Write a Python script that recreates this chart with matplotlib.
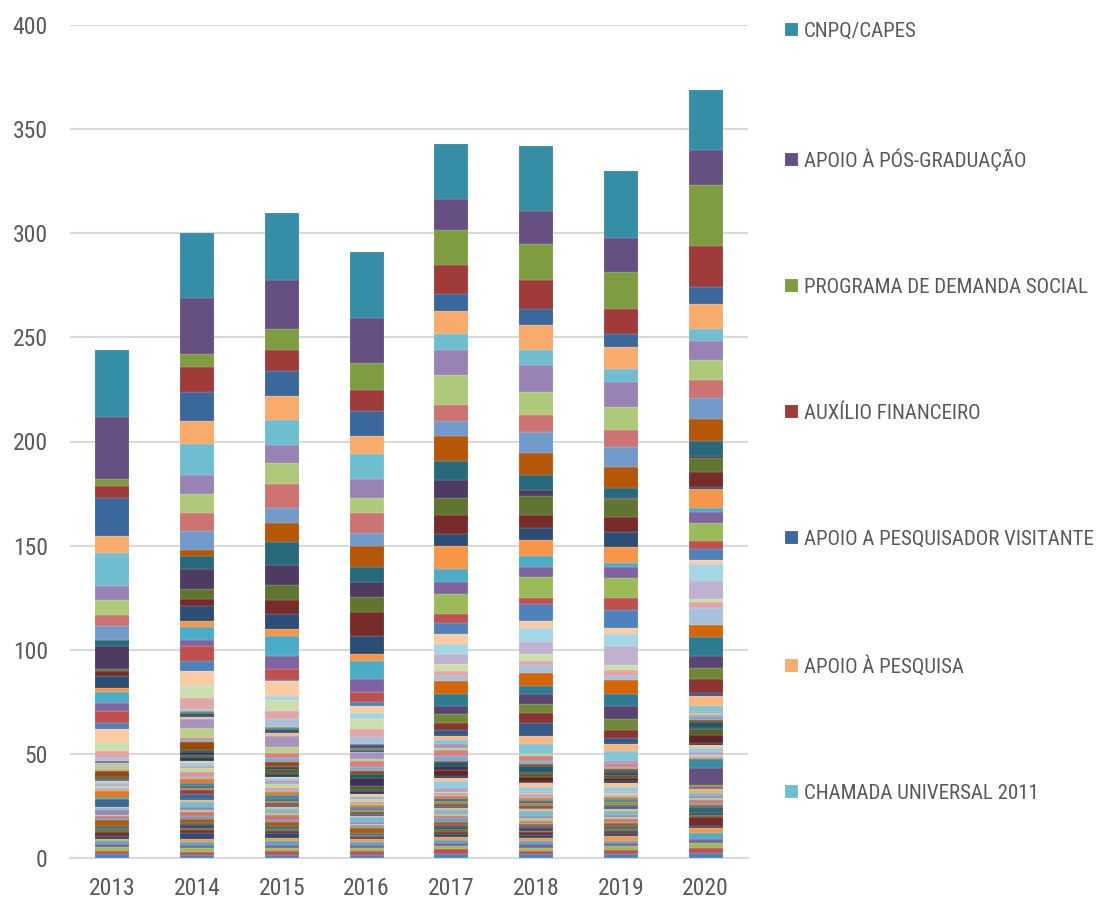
import colorsys
import numpy as np
import matplotlib
matplotlib.use('Agg')
import matplotlib.pyplot as plt
from matplotlib import font_manager
from matplotlib.colors import to_rgb

# Dados (valores por ano, séries de cima para baixo na pilha)
anos = ['2013', '2014', '2015', '2016', '2017', '2018', '2019', '2020']

nomes = ['CNPQ/CAPES', 'APOIO À PÓS-GRADUAÇÃO', 'PROGRAMA DE DEMANDA SOCIAL',
         'AUXÍLIO FINANCEIRO', 'APOIO A PESQUISADOR VISITANTE', 'APOIO À PESQUISA',
         'CHAMADA UNIVERSAL 2011']

# grupo A: 5 séries do topo (sem laranja)
grupo_a = [
    [32.0, 31.3, 32.0, 31.8, 26.4, 31.2, 32.5, 29.1],   # CNPQ/CAPES
    [30.0, 26.9, 23.9, 21.3, 14.9, 15.9, 16.0, 16.6],   # APOIO À PÓS-GRADUAÇÃO
    [3.1, 5.9, 9.9, 13.0, 17.0, 17.4, 18.1, 29.3],      # PROGRAMA DE DEMANDA SOCIAL
    [5.8, 11.9, 10.2, 10.1, 13.7, 13.7, 11.8, 19.9],    # AUXÍLIO FINANCEIRO
    [18.3, 14.2, 12.0, 12.0, 8.2, 8.0, 6.1, 8.2],       # APOIO A PESQUISADOR VISITANTE
]
grupo_b = [
    [8.1, 11.0, 11.2, 9.0, 11.0, 11.9, 10.9, 12.0],     # APOIO À PESQUISA
    [15.8, 14.8, 12.0, 12.0, 8.0, 7.2, 6.1, 5.8],       # CHAMADA UNIVERSAL 2011
    [6.7, 9.3, 9.0, 8.7, 12.0, 12.8, 11.8, 8.8],
    [7.4, 9.0, 9.7, 7.2, 14.1, 11.2, 11.4, 9.6],
    [5.1, 8.9, 11.9, 9.9, 8.0, 8.0, 7.8, 8.6],
    [7.0, 8.8, 7.0, 6.0, 6.9, 10.2, 9.9, 10.2],
]
grupo_c = [
    [0.0, 3.0, 9.0, 10.1, 12.2, 10.6, 10.0, 10.6],
    [2.8, 6.1, 11.0, 7.2, 8.9, 7.0, 4.8, 7.1],
    [10.9, 9.8, 9.9, 7.5, 8.8, 3.1, 0.6, 1.1],
    [1.0, 4.9, 6.9, 7.3, 8.2, 8.9, 8.5, 6.9],
    [2.2, 3.2, 7.1, 11.1, 9.0, 6.3, 7.2, 7.0],
    [5.8, 7.1, 7.2, 8.8, 6.0, 5.7, 7.0, 1.0],
]
grupo_d = [
    [2.1, 3.2, 3.2, 3.2, 11.1, 8.0, 7.9, 9.0],
    [5.1, 5.8, 9.6, 9.0, 5.9, 5.0, 2.1, 2.2],
    [4.0, 3.0, 6.2, 5.9, 6.0, 5.1, 4.9, 5.0],
    [0.0, 0.0, 0.0, 0.0, 9.7, 9.8, 9.8, 8.9],
    [5.8, 7.1, 5.1, 5.1, 4.0, 3.2, 5.5, 3.7],
    [3.0, 4.9, 0.8, 2.0, 5.5, 8.0, 8.7, 5.3],
]
grupo_e = [
    [6.2, 7.3, 7.1, 3.0, 4.9, 3.2, 3.2, 1.9],
    [0.0, 0.6, 2.1, 2.9, 4.8, 7.0, 5.8, 8.0],
    [0.0, 0.0, 0.0, 0.0, 4.8, 5.8, 8.8, 8.7],
    [4.0, 5.0, 5.1, 5.1, 3.2, 3.2, 2.4, 1.6],
    [3.8, 5.3, 3.8, 3.8, 2.2, 1.9, 3.0, 2.9],
    [1.1, 1.0, 3.8, 3.2, 2.6, 4.0, 1.8, 8.2],
]
grupo_f = [
    [0.0, 0.0, 0.0, 0.0, 6.3, 6.1, 7.0, 5.8],
    [0.4, 0.0, 0.0, 0.5, 5.7, 3.9, 5.8, 8.8],
    [0.5, 0.0, 0.0, 1.6, 4.0, 4.9, 6.2, 6.2],
    [0.0, 1.0, 1.0, 0.8, 4.1, 4.1, 5.0, 5.0],
    [0.0, 0.0, 0.0, 0.0, 3.3, 4.8, 4.0, 7.0],
    [0.4, 2.0, 2.2, 0.8, 2.9, 6.1, 3.0, 1.0],
]
grupo_g = [
    [0.3, 1.0, 1.1, 0.4, 1.9, 4.1, 3.2, 4.8],
    [0.0, 0.0, 0.0, 0.0, 1.9, 4.9, 5.0, 3.0],
    [0.4, 4.2, 5.3, 3.2, 1.9, 0.0, 0.8, 0.5],
    [2.0, 5.0, 3.2, 1.0, 1.3, 1.0, 0.0, 0.8],
    [0.5, 1.0, 2.1, 2.7, 2.7, 2.2, 2.1, 0.8],
    [0.6, 1.0, 2.2, 2.1, 2.4, 1.3, 0.8, 1.9],
]
grupo_h = [
    [2.7, 3.8, 1.8, 1.3, 0.6, 1.3, 1.1, 1.0],
    [0.5, 1.0, 0.6, 1.9, 1.9, 2.7, 0.8, 2.6],
    [0.4, 1.2, 0.6, 3.8, 1.9, 0.6, 1.0, 0.6],
    [0.4, 1.0, 2.1, 2.1, 0.0, 1.6, 1.2, 2.9],
    [0.0, 0.0, 0.5, 0.5, 2.6, 2.4, 1.5, 3.8],
    [0.5, 1.9, 1.5, 1.6, 1.0, 0.5, 1.1, 1.0],
]
grupo_i = [
    [0.8, 0.9, 0.6, 0.8, 1.8, 1.9, 1.9, 1.3],
    [0.6, 1.4, 0.7, 0.6, 3.2, 2.4, 2.4, 2.1],
    [1.2, 1.0, 1.9, 1.0, 1.9, 0.8, 0.6, 1.4],
    [0.9, 1.9, 1.9, 1.2, 0.6, 0.6, 0.8, 0.5],
    [0.7, 2.4, 1.0, 1.0, 1.0, 0.7, 0.5, 0.6],
    [0.5, 1.1, 0.8, 0.6, 0.5, 0.9, 0.7, 0.5],
]
grupo_j = [
    [2.4, 1.9, 1.6, 1.0, 0.8, 0.9, 0.8, 0.6],
    [0.3, 1.2, 2.1, 0.8, 0.7, 0.8, 0.7, 4.0],
    [0.4, 1.0, 0.9, 0.6, 0.9, 1.0, 0.9, 8.2],
    [0.8, 1.3, 1.0, 0.9, 1.2, 1.1, 1.1, 1.1],
    [0.4, 1.6, 0.8, 1.1, 0.9, 0.9, 0.6, 0.5],
    [3.5, 2.9, 1.2, 0.7, 1.1, 0.8, 1.6, 0.5],
]
grupo_k = [
    [0.7, 1.2, 0.9, 0.6, 1.0, 1.0, 0.7, 2.0],
    [0.9, 2.4, 1.1, 2.4, 1.2, 2.2, 2.2, 1.2],
    [2.4, 1.3, 0.8, 0.7, 0.8, 1.1, 0.8, 1.0],
    [0.5, 1.0, 1.0, 0.8, 0.9, 1.2, 1.2, 1.1],
    [1.1, 2.1, 2.1, 0.5, 1.1, 0.9, 1.0, 1.3],
    [0.8, 1.1, 0.9, 0.6, 1.9, 0.8, 0.8, 1.0],
]
grupo_l = [
    [2.7, 1.9, 2.1, 2.4, 1.1, 0.9, 1.3, 0.8],
    [0.9, 1.3, 0.9, 0.6, 1.0, 1.0, 0.8, 2.9],
    [0.8, 1.2, 0.8, 0.5, 1.2, 1.1, 0.7, 0.9],
    [1.2, 0.9, 0.7, 0.7, 1.3, 0.8, 1.0, 1.0],
    [1.9, 1.4, 0.9, 0.4, 1.0, 1.2, 0.9, 4.2],
    [1.4, 2.9, 2.4, 1.0, 1.4, 1.6, 1.2, 1.1],
]
grupo_m = [
    [1.2, 1.4, 1.5, 1.3, 1.5, 1.4, 2.4, 2.4],
    [1.5, 1.7, 1.8, 1.6, 1.2, 1.7, 1.3, 2.9],
    [1.4, 1.5, 1.4, 1.5, 1.7, 1.5, 1.5, 1.8],
    [1.9, 1.8, 1.7, 1.4, 1.6, 1.6, 1.6, 2.6],
    [1.6, 1.3, 1.9, 1.7, 2.0, 1.3, 1.9, 2.2],
    [1.7, 1.6, 1.4, 1.5, 2.1, 2.1, 2.1, 2.6],
]

# Paleta do tema (laranja, água, roxo, verde, vermelho, azul) e variações por grupo
acentos = ['#F79646', '#4BACC6', '#8064A2', '#9BBB59', '#C0504D', '#4F81BD']
variacoes = [(0.8, 0.0), (0.8, 0.2), (0.6, 0.0), (1.0, 0.0), (0.5, 0.5), (0.7, 0.0),
             (0.7, 0.3), (0.5, 0.0), (0.6, 0.4), (0.8, 0.0), (0.8, 0.2), (0.6, 0.0),
             (1.0, 0.0)]
grupos = [grupo_a, grupo_b, grupo_c, grupo_d, grupo_e, grupo_f, grupo_g,
          grupo_h, grupo_i, grupo_j, grupo_k, grupo_l, grupo_m]


def variar(cor, mod, off):
    h, l, s = colorsys.rgb_to_hls(*to_rgb(cor))
    return colorsys.hls_to_rgb(h, min(1.0, l * mod + off), s)


series = []
cores = []
for grupo, (mod, off) in zip(grupos, variacoes):
    base = acentos[-len(grupo):]
    for linha, cor in zip(grupo, base):
        series.append(np.array(linha))
        cores.append(variar(cor, mod, off))

# fonte estreita se houver
disponiveis = {f.name for f in font_manager.fontManager.ttflist}
fonte = next((f for f in ['Roboto Condensed', 'Liberation Sans Narrow', 'Roboto']
              if f in disponiveis), 'DejaVu Sans')
estreita = fonte != 'Roboto' and fonte != 'DejaVu Sans'
plt.rcParams['font.family'] = fonte
cinza = '#595959'

fig = plt.figure(figsize=(11.01, 9), dpi=100)
ax = fig.add_axes([70 / 1101, 1 - 858 / 900, 678 / 1101, 833 / 900])

x = np.arange(len(anos))
acum = np.zeros(len(anos))
barras = {}
# empilha de baixo para cima
for i in range(len(series) - 1, -1, -1):
    b = ax.bar(x, series[i], 0.4, bottom=acum, color=cores[i],
               edgecolor=(1, 1, 1, 0.35), linewidth=0.3, zorder=3)
    barras[i] = b
    acum = acum + series[i]

ax.set_xlim(-0.5, len(anos) - 0.5)
ax.set_ylim(0, 400)
ax.set_yticks(np.arange(0, 401, 50))
ax.set_xticks(x)
ax.set_xticklabels(anos)
ax.grid(axis='y', color='#D9D9D9', linewidth=1.5, zorder=0)
for lado in ['top', 'right', 'left']:
    ax.spines[lado].set_visible(False)
ax.spines['bottom'].set_color('#D9D9D9')
ax.spines['bottom'].set_linewidth(1.5)
tam = 17 if estreita else 15
ax.tick_params(axis='y', length=0, pad=16, labelsize=tam, labelcolor=cinza)
ax.tick_params(axis='x', length=0, pad=14, labelsize=tam, labelcolor=cinza)

handles = [barras[i] for i in range(len(nomes))]
fig.legend(handles, nomes, loc='upper left', bbox_to_anchor=(785 / 1101, 1 - 22 / 900),
           frameon=False, fontsize=15 if estreita else 13, labelcolor=cinza,
           handlelength=0.6, handleheight=0.6, handletextpad=0.3,
           labelspacing=5.14 if estreita else 6.1, borderpad=0, borderaxespad=0)

fig.savefig('out.png', dpi=100)
